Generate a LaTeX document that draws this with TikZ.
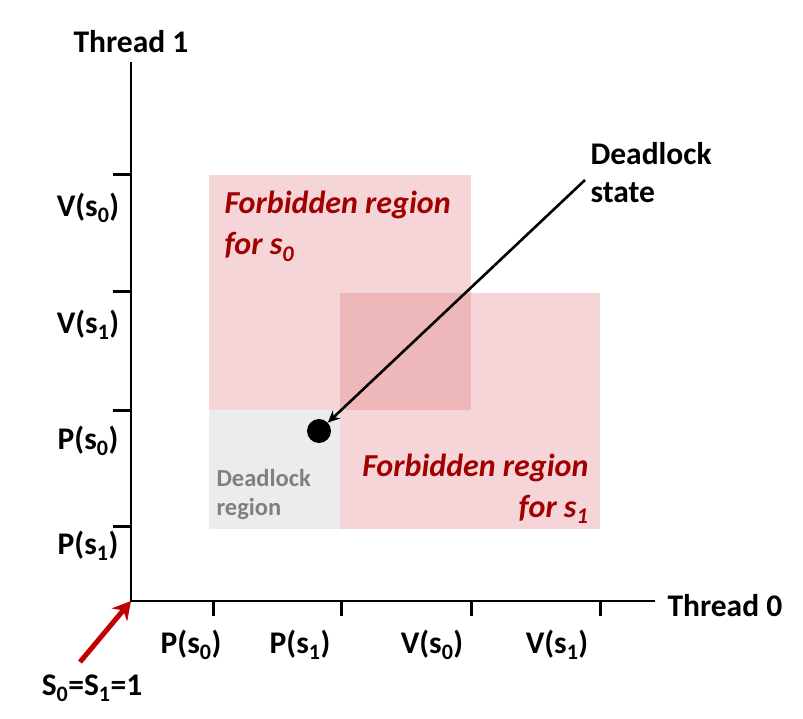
\documentclass[tikz,border=0pt]{standalone}
\usepackage{fontspec}
\setmainfont{Carlito}
\usetikzlibrary{arrows.meta}
\definecolor{forbid}{RGB}{220,105,110}
\definecolor{darkred}{RGB}{160,0,0}
\definecolor{arrowred}{RGB}{192,0,0}
\definecolor{lockgray}{RGB}{236,236,236}
\tikzstyle{axis} = [draw,line width=1.6pt]
\tikzstyle{tick} = [draw,line width=3pt]
\tikzstyle{lab} = [font=\fontsize{31.5}{38}\selectfont\bfseries]
\tikzstyle{region} = [fill=forbid,fill opacity=0.28]
\tikzstyle{rtext} = [font=\fontsize{32}{41}\selectfont\bfseries\itshape,text=darkred,align=left]
\newcommand{\sub}[1]{\textsubscript{#1}}

\begin{document}
\begin{tikzpicture}[x=1pt,y=-1pt]
    \useasboundingbox (0,0) rectangle (803,719);
    % regions
    \fill[lockgray] (209,410) rectangle (340,529);
    \fill[region] (209,175) rectangle (471,410);
    \fill[region] (340,293) rectangle (600,529);
    % axes
    \coordinate (o) at (131,601);
    \coordinate (ytop) at (131,62);
    \coordinate (xend) at (655,601);
    \draw[axis] (ytop) -- (o) -- (xend);
    \foreach \y in {175,292,410,526}
      \draw[tick] (113,\y) -- (131,\y);
    \foreach \x in {213,341,471,600}
      \draw[tick] (\x,601) -- (\x,616);
    \node[lab] (t1) at (131,42) {Thread 1};
    \node[lab,anchor=west] (t0) at (664,606) {Thread 0};
    % tick labels
    \node[lab] (v0) at (88,208) {V(s\sub{0})};
    \node[lab] (v1) at (88,325) {V(s\sub{1})};
    \node[lab] (p0) at (88,441) {P(s\sub{0})};
    \node[lab] (p1) at (88,546) {P(s\sub{1})};
    \node[lab] (xp0) at (191,645) {P(s\sub{0})};
    \node[lab] (xp1) at (300,645) {P(s\sub{1})};
    \node[lab] (xv0) at (432,645) {V(s\sub{0})};
    \node[lab] (xv1) at (557,645) {V(s\sub{1})};
    % region texts
    \node[rtext,anchor=north west] (f0) at (221,188) {Forbidden region\\for s\sub{0}};
    \node[rtext,anchor=north east,align=right] (f1) at (592,451) {Forbidden region\\for s\sub{1}};
    \node[font=\fontsize{24.5}{29}\selectfont\bfseries,text=gray,align=left,anchor=north west] (dr) at (213,466) {Deadlock\\region};
    % deadlock state
    \node[circle,fill=black,inner sep=0pt,minimum size=24pt] (dot) at (319,431) {};
    \node[lab,align=left,anchor=north west] (ds) at (587,139) {Deadlock\\state};
    \coordinate (dsa) at (585,180);
    \draw[line width=2.6pt,-{Stealth[length=12pt,width=11pt]}] (dsa) -- (dot);
    % initial state
    \node[lab] (init) at (92,688) {S\sub{0}=S\sub{1}=1};
    \coordinate (inita) at (80,662);
    \draw[line width=5pt,arrowred,-{Stealth[length=18pt,width=20pt]}] (inita) -- (o);
\end{tikzpicture}
\end{document}
